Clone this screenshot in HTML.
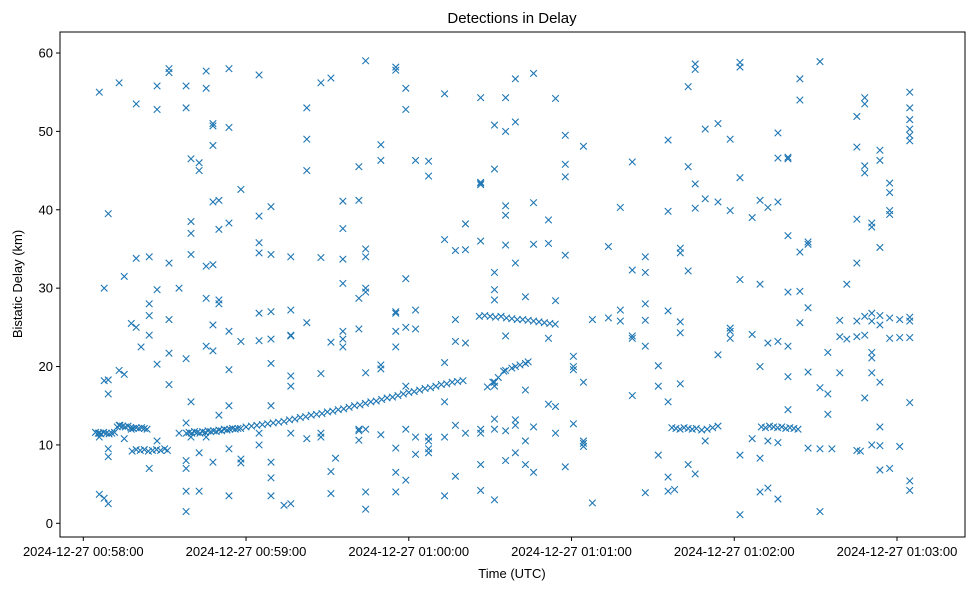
<!DOCTYPE html>
<html><head><meta charset="utf-8"><style>
body{margin:0;background:#fff;}
svg{display:block;font-family:"Liberation Sans","DejaVu Sans",sans-serif;}
</style></head><body>
<svg id="chart" width="979" height="590">
<text x="512" y="23" font-size="15" text-anchor="middle">Detections in Delay</text>
<text x="512" y="578" font-size="13" text-anchor="middle">Time (UTC)</text>
<text transform="translate(22,284) rotate(-90)" font-size="13" text-anchor="middle">Bistatic Delay (km)</text>
<g id="marks"></g>
<g id="axes"></g>
</svg>
<script>
const xTickLabels = ["2024-12-27 00:58:00","2024-12-27 00:59:00","2024-12-27 01:00:00","2024-12-27 01:01:00","2024-12-27 01:02:00","2024-12-27 01:03:00"];
const xTickSeconds = [0,60,120,180,240,300];
const yTickValues = [0,10,20,30,40,50,60];
// scattered detections: [seconds after 00:58:00, delay km]
const scatterPoints = [
[5.9,55],[5.9,3.7],[5.9,11.5],[5.9,11],[7.7,30],[7.7,3.2],[7.7,18.2],[9.2,39.5],[9.2,2.5],[9.2,8.5],[9.2,9.5],[9.2,16.5],[9.2,18.3],
[13.2,56.2],[13.2,12.5],[13.2,19.5],[15.1,31.5],[15.1,10.8],[15.1,19],[17.7,25.5],[17.7,12],[19.5,53.5],[19.5,33.8],[19.5,25],
[21.3,22.5],[24.3,34],[24.3,26.5],[24.3,24],[24.3,28],[24.3,7],[27.2,55.8],[27.2,52.8],[27.2,29.8],[27.2,20.3],[27.2,10.5],
[31.6,57.5],[31.6,58],[31.6,33.2],[31.6,21.7],[31.6,17.7],[31.6,26],[35.3,30],[35.3,11.5],
[37.9,53],[37.9,55.8],[37.9,21],[37.9,12.8],[37.9,8],[37.9,4.1],[37.9,1.5],[37.9,7],
[39.7,46.5],[39.7,38.5],[39.7,37],[39.7,34.3],[39.7,15.5],[39.7,11],[42.7,45],[42.7,46],[42.7,4.1],[42.7,9],
[45.3,57.7],[45.3,55.5],[45.3,32.8],[45.3,28.7],[45.3,22.6],[45.3,11],[47.8,48.2],[47.8,51],[47.8,50.7],[47.8,41],[47.8,33],[47.8,25.3],[47.8,22],[47.8,7.8],
[50,41.2],[50,37.5],[50,28.5],[50,28],[50,13.8],[53.7,3.5],[53.7,58],[53.7,50.5],[53.7,38.3],[53.7,24.5],[53.7,19.6],[53.7,15],[53.7,9.5],
[58.1,42.6],[58.1,23.2],[58.1,8.2],[58.1,7.7],[64.8,57.2],[64.8,39.2],[64.8,35.8],[64.8,34.5],[64.8,26.8],[64.8,23.3],[64.8,11.5],[64.8,10],
[69.2,40.4],[69.2,34.3],[69.2,27],[69.2,23.5],[69.2,20.4],[69.2,15],[69.2,7.8],[69.2,5.8],[69.2,3.5],
[76.5,34],[76.5,27.2],[76.5,24],[76.5,23.9],[76.5,17.5],[76.5,18.8],[76.5,11.5],[76.5,2.5],[74,2.3],
[82.4,53],[82.4,49],[82.4,45],[82.4,25.6],[82.4,10.8],[87.6,56.2],[87.6,33.9],[87.6,19.1],[87.6,11.5],[87.6,11],
[91.3,56.8],[91.3,23.1],[91.3,6.6],[91.3,3.8],[93,8.3],[95.7,41.1],[95.7,37.6],[95.7,33.7],[95.7,30.6],[95.7,24.5],[95.7,22.5],[95.7,23.5],
[101.6,41.2],[101.6,45.5],[101.6,28.7],[101.6,24.8],[101.6,12],[101.6,10.6],[101.6,11.8],
[104.1,59],[104.1,35],[104.1,34],[104.1,30],[104.1,29.5],[104.1,19.2],[104.1,4],[104.1,1.8],[104.1,12],
[109.7,46.3],[109.7,48.3],[109.7,20.2],[109.7,19.7],[109.7,11.3],[115.2,58.2],[115.2,57.8],[115.2,27],[115.2,26.8],[115.2,24.5],[115.2,22.5],[115.2,9.6],[115.2,6.5],[115.2,4],
[118.9,55.5],[118.9,52.8],[118.9,31.2],[118.9,25],[118.9,17.5],[118.9,12],[118.9,5.5],[122.5,46.3],[122.5,27.2],[122.5,24.8],[122.5,11],[122.5,8.8],
[127.3,46.2],[127.3,44.3],[127.3,9.5],[127.3,9],[127.3,10.5],[127.3,11],[133.2,54.8],[133.2,36.2],[133.2,20.5],[133.2,15.5],[133.2,11],[133.2,3.5],
[137.2,34.8],[137.2,26],[137.2,23.2],[137.2,12.5],[137.2,6],[140.9,34.9],[140.9,38.2],[140.9,23],[140.9,11.5],
[146.5,54.3],[146.5,43.5],[146.5,43.2],[146.5,43.4],[146.5,36],[146.5,12],[146.5,11.5],[146.5,7.5],[146.5,4.2],
[151.6,50.8],[151.6,45.2],[151.6,32],[151.6,29.8],[151.6,28.5],[151.6,18],[151.6,17.5],[151.6,13.3],[151.6,12],[151.6,3],
[155.7,54.3],[155.7,50],[155.7,40.5],[155.7,39.3],[155.7,35.5],[155.7,23.9],[155.7,19.5],[155.7,8],[155.7,11.8],
[159.3,51.2],[159.3,56.7],[159.3,33.2],[159.3,20],[159.3,13.2],[159.3,12.5],[159.3,9],[163,28.9],[163,20.4],[163,17],[163,10.5],[163,7.5],
[166,57.4],[166,40.9],[166,35.6],[166,6.5],[166,12.3],[171.5,38.7],[171.5,35.7],[171.5,23.6],[171.5,15.2],[174.1,54.2],[174.1,28.4],[174.1,14.9],[174.1,11.5],
[177.7,45.8],[177.7,49.5],[177.7,44.2],[177.7,34.2],[177.7,7.2],[180.7,21.3],[180.7,20],[180.7,19.6],[180.7,12.7],
[184.4,48.1],[184.4,18],[184.4,10.5],[184.4,10.2],[184.4,9.8],[187.7,26],[187.7,2.6],[193.6,35.3],[193.6,26.2],
[198,40.3],[198,27.2],[198,25.8],[202.4,46.1],[202.4,32.3],[202.4,23.9],[202.4,23.6],[202.4,16.3],
[207.2,32],[207.2,28],[207.2,3.9],[207.2,34],[207.2,22.6],[207.2,25.9],[212,17.5],[212,20.1],[212,8.7],
[215.6,48.9],[215.6,39.8],[215.6,15.5],[215.6,27.1],[215.6,5.9],[215.6,4.1],[220.1,35.1],[220.1,34.5],[220.1,24.3],[220.1,17.8],[220.1,25.7],[218,4.3],
[223,45.5],[223,55.7],[223,32.2],[223,7.5],[225.6,58.6],[225.6,57.9],[225.6,43.3],[225.6,40.2],[225.6,6.3],[229.3,50.3],[229.3,41.4],[229.3,10.5],
[234,51],[234,41],[234,21.5],[238.5,49],[238.5,39.9],[238.5,24.9],[238.5,24.5],[238.5,23.6],[242.1,58.8],[242.1,58.2],[242.1,44.1],[242.1,31.1],[242.1,8.7],[242.1,1.1],
[246.6,39],[246.6,24.1],[246.6,10.8],[249.5,41.2],[249.5,30.5],[249.5,20],[249.5,8.3],[249.5,4],[252.4,40.3],[252.4,23],[252.4,4.5],[252.4,10.5],
[256.1,49.8],[256.1,46.6],[256.1,41],[256.1,23.2],[256.1,10.3],[256.1,3.1],[259.8,46.5],[259.8,46.7],[259.8,36.7],[259.8,29.5],[259.8,18.7],[259.8,14.5],[259.8,22.6],
[264.2,56.7],[264.2,54],[264.2,29.6],[264.2,25.6],[264.2,34.6],[267.2,35.6],[267.2,27.5],[267.2,35.9],[267.2,19.3],[267.2,9.6],
[271.6,58.9],[271.6,17.3],[271.6,9.5],[271.6,1.5],[274.5,21.8],[274.5,13.9],[274.5,16.5],[278.9,25.9],[278.9,23.8],[278.9,19.2],[276,9.5],
[281.5,30.5],[281.5,23.5],[285.2,51.9],[285.2,48],[285.2,38.8],[285.2,33.2],[285.2,25.8],[285.2,23.8],[285.2,9.3],[286.5,9.2],
[288.1,54.3],[288.1,53.5],[288.1,45.6],[288.1,44.7],[288.1,26.4],[288.1,16],[288.1,24],[290.7,38.3],[290.7,37.8],[290.7,21.8],[290.7,21.1],[290.7,19.2],[290.7,10],[290.7,25.8],[290.7,26.8],
[293.7,47.6],[293.7,46.3],[293.7,35.2],[293.7,26.5],[293.7,25.3],[293.7,18],[293.7,12.3],[293.7,9.9],[293.7,6.8],
[297.3,43.4],[297.3,42.2],[297.3,39.9],[297.3,39.4],[297.3,26.2],[297.3,23.6],[297.3,7],[301,26],[301,23.7],[301,9.8],
[304.7,55],[304.7,53],[304.7,51.5],[304.7,50.3],[304.7,49.5],[304.7,48.8],[304.7,26.3],[304.7,25.8],[304.7,23.7],[304.7,15.4],[304.7,5.4],[304.7,4.2]
];
// dense track detections: [seconds, delay km]
const trackPoints = [
[4.5,11.6],[5.5,11.5],[6.5,11.4],[7.5,11.6],[8.5,11.5],[9.5,11.4],[10.5,11.5],[11.5,11.6],[12.5,12.3],[13.5,12.5],[14.5,12.4],[15.5,12.3],[16.5,12.4],
[17.5,12.2],[18.5,12.1],[19.5,12.2],[20.5,12.1],[21.5,12.2],[22.5,12.1],[23.5,12.0],
[18,9.2],[19.5,9.4],[21,9.3],[22.5,9.4],[24,9.2],[25.5,9.3],[27,9.4],[28.5,9.3],[30,9.5],[31,9.3],
[38,11.5],[39,11.6],[40,11.5],[41,11.7],[42,11.6],[43,11.5],[44,11.7],[45,11.6],[46,11.8],[47,11.7],[48,11.8],[49,11.7],[50,11.9],[51,11.8],[52,12.0],[53,11.9],[54,12.0],[55,12.1],[56,12.0],[57,12.1],[58,12.1],
[60,12.3],[62,12.4],[64,12.5],[66,12.6],[68,12.7],[70,12.8],[72,12.9],[74,13.0],[76,13.2],[78,13.3],[80,13.5],[82,13.6],[84,13.8],[86,13.9],[88,14.0],[90,14.2],[92,14.3],[94,14.5],
[96,14.6],[98,14.8],[100,15.0],[102,15.1],[104,15.3],[106,15.5],[108,15.6],[110,15.8],[112,16.0],[114,16.1],[116,16.3],[118,16.5],[120,16.7],[122,16.8],[124,17.0],[126,17.2],[128,17.3],[130,17.5],[132,17.7],[134,17.8],[136,18.0],[138,18.1],[140,18.2],
[146,26.4],[148,26.5],[150,26.4],[152,26.3],[154,26.4],[156,26.2],[158,26.1],[160,26.0],[162,26.0],[164,25.9],[166,25.8],[168,25.7],[170,25.6],[172,25.5],[174,25.4],
[149,17.4],[151,18.0],[153,18.6],[155,19.4],[158,19.8],[161,20.2],[164,20.6],
[217,12.2],[218.5,12.1],[220,12.0],[221.5,12.2],[223,12.1],[224.5,12.0],[226,12.1],[228,11.9],[230,12.0],[232,12.2],[234,12.4],
[250,12.3],[251.5,12.2],[253,12.4],[254.5,12.3],[256,12.2],[257.5,12.3],[259,12.1],[260.5,12.2],[262,12.1],[263.5,12.0]
];
const L=60,R=965,T=32,B=537;
function xs(t){return 83.3+t*(897-83.3)/300;}
function ys(d){return 523.3-d*(523.3-53)/60;}
const NS="http://www.w3.org/2000/svg";
const marks=document.getElementById('marks');
const axes=document.getElementById('axes');
function mk(tag,attrs,parent){const e=document.createElementNS(NS,tag);for(const k in attrs)e.setAttribute(k,attrs[k]);parent.appendChild(e);return e;}
function drawX(p){
  const x=xs(p[0]),y=ys(p[1]),s=3.3;
  const g=mk('path',{d:`M${x-s},${y-s}L${x+s},${y+s}M${x-s},${y+s}L${x+s},${y-s}`,stroke:'#1f77b4','stroke-width':1.1,fill:'none'},marks);
  
  
}
scatterPoints.forEach(drawX);
trackPoints.forEach(drawX);
const frame=mk('rect',{x:L,y:T,width:R-L,height:B-T,fill:'none',stroke:'#000','stroke-width':1},axes);


xTickSeconds.forEach((s,i)=>{
  const x=xs(s);
  mk('line',{x1:x,x2:x,y1:B,y2:B+4,stroke:'#000'},axes);
  const t=mk('text',{x:x,y:B+19,'font-size':13,'text-anchor':'middle'},axes);
  t.textContent=xTickLabels[i];
  
  
});
yTickValues.forEach(v=>{
  const y=ys(v);
  mk('line',{x1:L-4,x2:L,y1:y,y2:y,stroke:'#000'},axes);
  const t=mk('text',{x:L-7,y:y+4.5,'font-size':13,'text-anchor':'end'},axes);
  t.textContent=v;
  
  
});
</script>
</body></html>
